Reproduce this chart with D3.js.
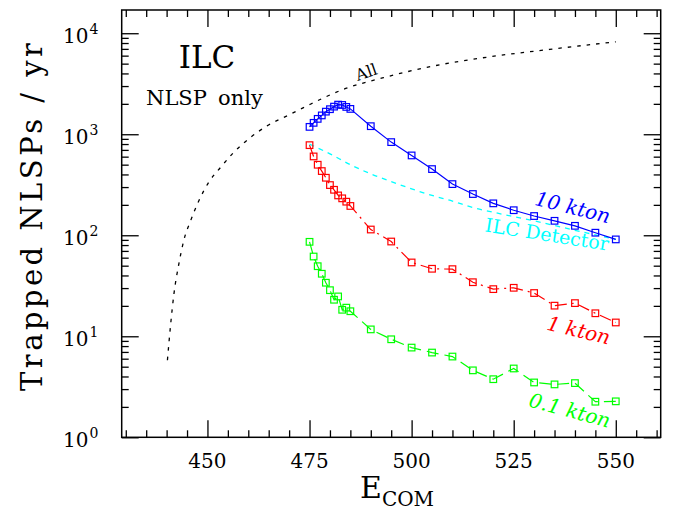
<!DOCTYPE html>
<html>
<head>
<script src="https://d3js.org/d3.v7.min.js"></script>
<style>
  body { margin: 0; background: #fff; }
  text { font-family: "DejaVu Serif", serif; }
</style>
</head>
<body>
<script>
var energies = [475, 476, 477, 478, 479, 480, 481, 482, 483, 484, 485,
                490, 495, 500, 505, 510, 515, 520, 525, 530, 535, 540, 545, 550]
var tenKton = [1183, 1297, 1420, 1536, 1674, 1770, 1877, 1965, 1950, 1864, 1782,
               1202, 836, 617, 452, 321, 256, 207, 177, 155, 139, 124, 106, 91]
var oneKton = [780, 603, 499, 432, 371, 314, 282, 248, 232, 215, 195,
               114, 86.7, 53.8, 46.6, 46.2, 34.3, 29.3, 30.2, 26.8, 20.1, 21.3, 16.9, 13.7]
var tenthKton = [86.1, 61.6, 49.4, 41.6, 33.9, 28.6, 23.0, 24.8, 18.3, 19.2, 17.7,
                 11.7, 9.34, 7.73, 6.90, 6.30, 4.60, 3.76, 4.80, 3.49, 3.34, 3.44, 2.25, 2.27]
var detectorE = [475, 480, 485, 490, 495, 500, 505, 510, 515, 520, 525, 530, 535, 540, 545, 550]
var detectorRate = [798, 640, 500, 405, 340, 288, 248, 218, 188, 169, 153, 139, 125, 112, 101, 91]
var allE = [440.2, 441, 441.8, 443, 444.2, 445.9, 447.9, 450.3, 453.2, 456.4, 460.5,
            464.6, 470.3, 475.2, 483.3, 493.1, 505.3, 517.5, 533.8, 550]
var allRate = [5.8, 13.3, 26.4, 52.2, 88.7, 140, 220, 334, 469, 659, 927,
               1210, 1579, 1983, 2786, 3631, 4733, 5718, 6918, 8225]
var xMajor = [450, 475, 500, 525, 550]
var yMajor = [1, 10, 100, 1000, 10000]
var yExp = ["0", "1", "2", "3", "4"]

var W = 673, H = 511
var padL = 121.7, padT = 10, padR = 660.7, padB = 437.3
var svg = d3.select("body").append("svg").attr("width", W).attr("height", H)

var x = d3.scaleLinear().domain([429, 561]).range([padL, padR])
var y = d3.scaleLog().domain([1, Math.pow(10, 4.23)]).range([padB, padT])

var xMinor = d3.range(430, 561, 5).filter(v => xMajor.indexOf(v) < 0)
var yMinor = []
yMajor.forEach(d => { for (var k = 2; k < 10; k++) if (d * k < y.domain()[1]) yMinor.push(d * k) })

function styleAxis(g) {
  g.select(".domain").remove()
  g.selectAll("line").attr("stroke", "#000").attr("stroke-width", 1.3)
}
svg.append("g").attr("transform", `translate(0,${padB})`)
  .call(d3.axisBottom(x).tickValues(xMajor).tickSize(-17).tickFormat("")).call(styleAxis)
svg.append("g").attr("transform", `translate(0,${padB})`)
  .call(d3.axisBottom(x).tickValues(xMinor).tickSize(-7).tickFormat("")).call(styleAxis)
svg.append("g").attr("transform", `translate(0,${padT})`)
  .call(d3.axisTop(x).tickValues(xMajor).tickSize(-17).tickFormat("")).call(styleAxis)
svg.append("g").attr("transform", `translate(0,${padT})`)
  .call(d3.axisTop(x).tickValues(xMinor).tickSize(-7).tickFormat("")).call(styleAxis)
svg.append("g").attr("transform", `translate(${padL},0)`)
  .call(d3.axisLeft(y).tickValues(yMajor).tickSize(-17).tickFormat("")).call(styleAxis)
svg.append("g").attr("transform", `translate(${padL},0)`)
  .call(d3.axisLeft(y).tickValues(yMinor).tickSize(-7).tickFormat("")).call(styleAxis)
svg.append("g").attr("transform", `translate(${padR},0)`)
  .call(d3.axisRight(y).tickValues(yMajor).tickSize(-17).tickFormat("")).call(styleAxis)
svg.append("g").attr("transform", `translate(${padR},0)`)
  .call(d3.axisRight(y).tickValues(yMinor).tickSize(-7).tickFormat("")).call(styleAxis)

svg.append("rect").attr("x", padL).attr("y", padT).attr("width", padR - padL).attr("height", padB - padT)
  .attr("fill", "none").attr("stroke", "#000").attr("stroke-width", 1.5)

// tick labels
svg.selectAll("text.xt").data(xMajor).enter().append("text").attr("class", "xt")
  .attr("x", d => x(d)).attr("y", padB + 31).attr("text-anchor", "middle")
  .attr("font-size", 20).text(d => d)
var yt = svg.selectAll("g.yt").data(yMajor).enter().append("g").attr("class", "yt")
yt.append("text").attr("x", 88.5).attr("y", d => y(d) + 9.4).attr("text-anchor", "end")
  .attr("font-size", 20).text("10")
yt.append("text").attr("x", 89.5).attr("y", d => y(d) + 0.5)
  .attr("font-size", 14).text((d, i) => yExp[i])

// axis titles
svg.append("text").attr("transform", "translate(42,217) rotate(-90)").attr("text-anchor", "middle")
  .attr("font-size", 29).attr("textLength", 348).attr("lengthAdjust", "spacing")
  .text("Trapped NLSPs / yr")
var xl = svg.append("text").attr("x", 360).attr("y", 498).attr("font-size", 30)
xl.append("tspan").text("E")
xl.append("tspan").attr("dy", 8).attr("font-size", 20).text("COM")

// annotations
svg.append("text").attr("x", 207).attr("y", 68).attr("text-anchor", "middle")
  .attr("font-family", "Liberation Serif").attr("font-size", 31).text("ILC")
svg.append("text").attr("x", 146).attr("y", 105).attr("font-size", 21).text("NLSP")
svg.append("text").attr("x", 218).attr("y", 105).attr("font-size", 21).text("only")

var line = d3.line().x(d => x(d[0])).y(d => y(d[1]))

svg.append("path").datum(d3.zip(allE, allRate))
  .attr("d", line.curve(d3.curveMonotoneX)).attr("fill", "none")
  .attr("stroke", "#000").attr("stroke-width", 1.3).attr("stroke-dasharray", "3.5,6")
svg.append("path").datum(d3.zip(detectorE, detectorRate))
  .attr("d", line.curve(d3.curveMonotoneX)).attr("fill", "none")
  .attr("stroke", "#00ffff").attr("stroke-width", 1.3).attr("stroke-dasharray", "5,5")

line.curve(d3.curveLinear)
var series = [
  { vals: tenKton, color: "#0000ff", dash: null },
  { vals: oneKton, color: "#ff0000", dash: "12,5,2,5" },
  { vals: tenthKton, color: "#00ff00", dash: "12,6" }
]
series.forEach(s => {
  var pts = d3.zip(energies, s.vals)
  svg.append("path").datum(pts).attr("d", line).attr("fill", "none")
    .attr("stroke", s.color).attr("stroke-width", 1.2).attr("stroke-dasharray", s.dash)
  svg.selectAll(null).data(pts).enter().append("rect")
    .attr("x", d => x(d[0]) - 3.3).attr("y", d => y(d[1]) - 3.3)
    .attr("width", 6.6).attr("height", 6.6)
    .attr("fill", "none").attr("stroke", s.color).attr("stroke-width", 1.2)
})

function label(txt, cx, cy, ang, color, size, italic) {
  svg.append("text").attr("transform", `translate(${cx},${cy}) rotate(${ang})`)
    .attr("text-anchor", "middle").attr("font-size", size).attr("fill", color)
    .attr("font-style", italic ? "italic" : "normal").text(txt)
}
label("All", 368, 77.5, -19, "#000", 16, false)
label("10 kton", 571, 214, 14, "#0000ff", 20, true)
label("ILC Detector", 546, 241, 9, "#00ffff", 19, false)
label("1 kton", 577, 337, 13.7, "#ff0000", 20, true)
label("0.1 kton", 568, 417, 15, "#00ff00", 20, true)
</script>
</body>
</html>
